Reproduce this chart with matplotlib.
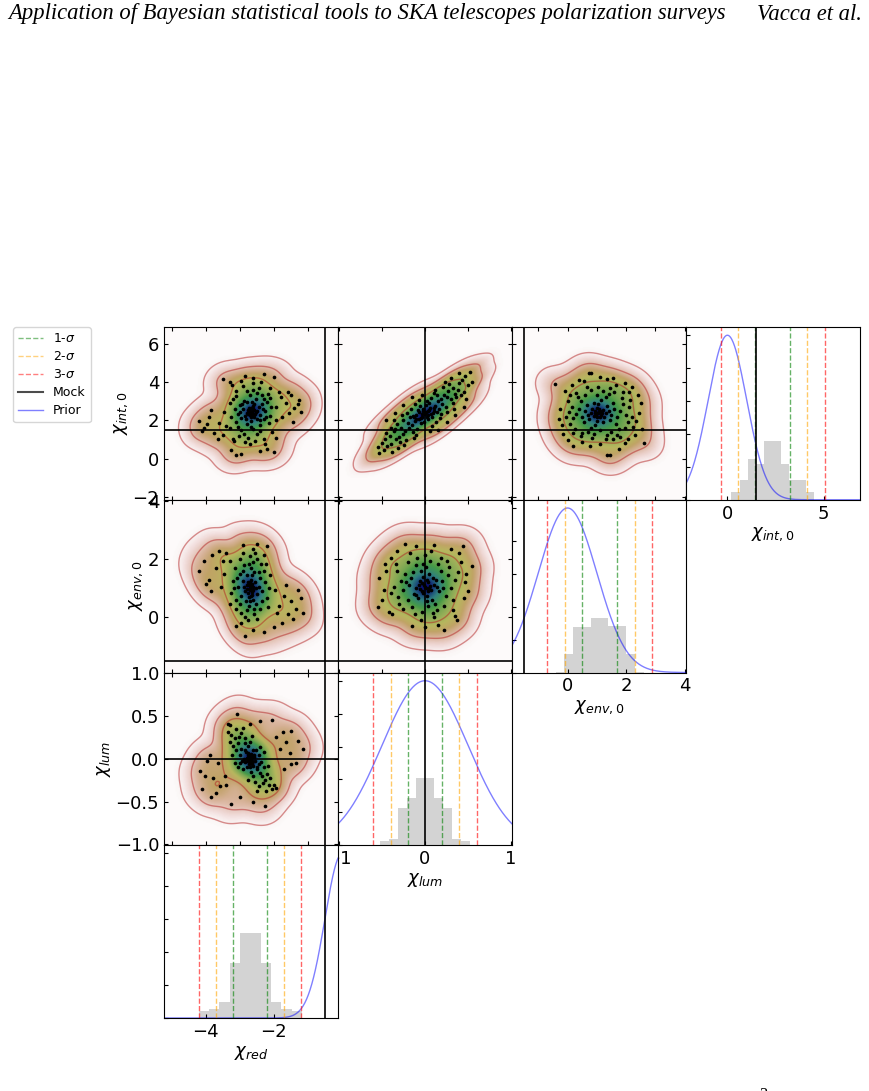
import numpy as np
import matplotlib.pyplot as plt
from matplotlib.ticker import MultipleLocator
from matplotlib.lines import Line2D
from matplotlib.colors import PowerNorm

# parameter order: columns left->right, rows top->bottom
col_par = ['red', 'lum', 'env', 'int']
row_par = ['int', 'env', 'lum', 'red']
labels = {'red': r'$\chi_{red}$', 'lum': r'$\chi_{lum}$',
          'env': r'$\chi_{env,0}$', 'int': r'$\chi_{int,0}$'}

# axis limits
lim_red = (-5.22, -0.12)
lim_lum = (-1.01, 1.01)
lim_env = (-1.9, 4.05)
lim_int = (-2.15, 6.88)

# mock (true) values
mock_red, mock_lum, mock_env, mock_int = -0.5, 0.0, -1.5, 1.5

# posterior mean / std (dashed sigma lines)
post_red, post_lum, post_env, post_int = (-2.7, 0.5), (0.0, 0.2), (1.1, 0.6), (2.35, 0.9)

# prior mean / std
prior_red, prior_lum, prior_env, prior_int = (0.0, 0.5), (0.0, 0.5), (0.0, 1.0), (0.0, 1.0)

# histograms (normalised heights, 10 bins between the range limits)
range_red = (-4.2, -1.18)
hist_red = [0.045, 0.055, 0.095, 0.334, 0.516, 0.516, 0.334, 0.095, 0.055, 0.040]
range_lum = (-0.52, 0.52)
hist_lum = [0.024, 0.035, 0.225, 0.288, 0.408, 0.408, 0.288, 0.225, 0.035, 0.024]
range_env = (-0.41, 2.6)
hist_env = [0.006, 0.111, 0.276, 0.276, 0.330, 0.330, 0.280, 0.280, 0.111, 0.006]
range_int = (0.21, 4.48)
hist_int = [0.047, 0.121, 0.247, 0.218, 0.360, 0.360, 0.218, 0.121, 0.121, 0.047]

# samples (x, y)
pts_red_int = np.array([
    (-2.65, 2.45), (-2.7, 2.3), (-2.6, 2.6), (-2.75, 2.55), (-2.55, 2.35), (-2.68, 2.2), (-2.62, 2.75), (-2.8, 2.4),
    (-2.5, 2.5), (-2.72, 2.65), (-2.58, 2.15), (-2.85, 2.25), (-2.45, 2.7), (-2.9, 2.6), (-2.4, 2.3), (-2.66, 1.95),
    (-2.63, 2.95), (-2.95, 2.1), (-2.35, 2.85), (-2.78, 1.8), (-2.52, 3.1), (-3.0, 2.8), (-2.3, 2.05), (-2.88, 3.0),
    (-2.42, 1.75), (-3.05, 2.35), (-2.25, 2.5), (-2.7, 3.3), (-2.6, 1.55), (-3.1, 1.9), (-2.2, 2.95), (-2.95, 1.5),
    (-2.35, 3.35), (-3.15, 2.6), (-2.15, 1.85), (-2.8, 3.55), (-2.5, 1.3), (-3.2, 3.1), (-2.18, 3.4), (-3.02, 1.2),
    (-2.45, 3.7), (-3.25, 2.2), (-2.1, 2.25), (-2.75, 1.1), (-2.9, 3.8), (-2.3, 1.05), (-3.28, 1.6), (-2.1, 3.7),
    (-2.55, 0.9), (-3.1, 3.55), (-2.38, 4.0), (-3.2, 1.05), (-2.05, 1.4), (-2.85, 0.85), (-2.62, 3.95), (-3.3, 2.9),
    (-2.08, 2.7), (-2.95, 4.05), (-2.25, 0.75), (-3.22, 3.85), (-2.48, 2.05), (-2.82, 2.05), (-2.57, 2.85), (-2.92, 2.85),
    (-2.33, 2.6), (-2.68, 1.65), (-2.5, 3.45), (-3.05, 1.65), (-2.22, 2.15), (-2.6, 3.6), (-2.78, 2.95), (-2.42, 2.0),
    (-2.98, 2.45), (-2.28, 3.1), (-2.87, 1.3), (-2.4, 1.45), (-3.12, 3.25), (-2.12, 3.15), (-2.7, 0.75), (-3.18, 0.9),
    (-2.64, 2.38), (-2.69, 2.5), (-2.6, 2.28), (-2.73, 2.42), (-2.58, 2.56), (-2.77, 2.33), (-2.53, 2.42), (-2.67, 2.62),
    (-4.2, 1.95), (-4.05, 1.6), (-3.9, 2.2), (-3.75, 1.35), (-3.6, 1.85), (-3.85, 2.55), (-3.5, 1.25), (-3.45, 2.45),
    (-4.1, 1.45), (-3.65, 1.05), (-3.95, 1.8), (-3.4, 1.7),
    (-1.95, 2.7), (-1.8, 3.2), (-1.65, 2.9), (-1.5, 3.35), (-1.4, 2.65), (-1.25, 3.05), (-1.55, 2.4), (-1.75, 2.2),
    (-1.3, 2.85), (-1.85, 3.5), (-1.6, 3.5), (-1.2, 2.45), (-1.45, 1.9), (-1.95, 2.0),
    (-3.5, 4.15), (-2.3, 4.4), (-2.6, 4.2), (-3.3, 4.0), (-2.0, 4.25), (-2.85, 4.3),
    (-3.1, 0.2), (-2.95, 0.25), (-2.4, 0.4), (-2.2, 0.5), (-2.0, 0.35), (-3.25, 0.45), (-1.95, 1.1)])

pts_lum_int = np.array([
    (0.0, 2.35), (0.03, 2.5), (-0.04, 2.2), (0.06, 2.65), (-0.07, 2.05), (0.02, 2.15), (-0.02, 2.6), (0.09, 2.4),
    (-0.1, 2.3), (0.05, 2.9), (-0.05, 1.85), (0.12, 2.75), (-0.12, 1.95), (0.08, 2.2), (-0.08, 2.55), (0.15, 3.0),
    (-0.15, 1.75), (0.01, 2.8), (-0.01, 1.9), (0.11, 2.5), (-0.13, 2.15), (0.18, 3.1), (-0.18, 1.6), (0.04, 2.05),
    (-0.06, 2.75), (0.2, 2.85), (-0.2, 1.85), (0.14, 3.3), (-0.14, 1.4), (0.07, 3.15), (-0.09, 1.55), (0.22, 3.35),
    (-0.23, 1.45), (0.16, 2.6), (-0.17, 2.2), (0.25, 3.2), (-0.26, 1.3), (0.1, 3.45), (-0.11, 1.25), (0.27, 3.55),
    (-0.28, 1.6), (0.19, 2.35), (-0.21, 2.4), (0.3, 3.1), (-0.3, 1.15), (0.24, 2.7), (-0.25, 2.0), (0.33, 3.7),
    (-0.34, 1.05), (0.13, 1.9), (-0.12, 2.85), (0.35, 3.4), (-0.36, 1.45), (0.28, 3.9), (-0.29, 0.85), (0.21, 3.75),
    (-0.22, 0.95), (0.38, 3.6), (-0.39, 0.75), (0.17, 2.1), (-0.16, 2.6), (0.4, 3.95), (-0.41, 1.2), (0.32, 2.9),
    (-0.33, 1.8), (0.08, 1.7), (-0.07, 3.05), (0.26, 2.45), (-0.27, 2.3), (0.36, 3.2), (-0.35, 1.55), (0.43, 4.1),
    (-0.44, 0.65), (0.45, 3.5), (-0.46, 1.0), (0.47, 4.3), (-0.48, 0.45), (0.3, 4.2), (-0.31, 0.55), (0.5, 3.85),
    (-0.5, 0.8), (0.52, 4.55), (-0.53, 0.3), (0.42, 3.3), (-0.4, 1.6), (0.06, 1.45), (-0.04, 3.3), (0.23, 4.0),
    (-0.24, 0.7), (0.34, 2.6), (-0.36, 2.0), (0.55, 4.0), (-0.55, 0.6), (0.48, 3.1), (-0.45, 1.35), (0.39, 4.45),
    (-0.38, 0.35), (0.12, 3.6), (-0.13, 1.1), (0.02, 3.0), (0.01, 2.42), (-0.03, 2.33), (0.04, 2.28), (-0.02, 2.47),
    (0.05, 2.55), (-0.05, 2.12), (0.07, 2.35), (-0.07, 2.42), (0.1, 2.62), (-0.1, 2.08), (0.14, 2.45), (-0.14, 2.25),
    (0.25, 1.9), (-0.25, 2.8), (0.35, 2.3), (-0.35, 2.4), (0.15, 1.5), (-0.15, 3.2), (0.45, 2.7), (-0.45, 2.0)])

pts_env_int = np.array([
    (1.05, 2.4), (1.15, 2.3), (0.95, 2.5), (1.2, 2.55), (0.9, 2.25), (1.1, 2.15), (1.0, 2.65), (1.3, 2.4),
    (0.8, 2.4), (1.25, 2.2), (0.85, 2.6), (1.4, 2.5), (0.7, 2.3), (1.05, 2.85), (1.0, 1.95), (1.5, 2.3),
    (0.6, 2.5), (1.35, 2.75), (0.75, 2.05), (1.2, 1.9), (0.9, 2.9), (1.6, 2.6), (0.5, 2.2), (1.45, 2.0),
    (0.65, 2.8), (1.15, 3.05), (0.95, 1.75), (1.7, 2.2), (0.4, 2.6), (1.55, 2.9), (0.55, 1.9), (1.3, 3.2),
    (0.8, 1.6), (1.8, 2.5), (0.3, 2.35), (1.65, 1.8), (0.45, 3.0), (1.0, 3.3), (1.1, 1.5), (1.9, 2.85),
    (0.2, 2.1), (1.75, 1.55), (0.35, 3.2), (1.4, 3.4), (0.7, 1.4), (2.0, 2.3), (0.15, 2.7), (1.5, 1.4),
    (0.6, 3.35), (1.2, 3.55), (0.9, 1.3), (2.05, 1.9), (0.1, 1.8), (1.85, 3.15), (0.25, 1.55), (1.6, 3.5),
    (0.5, 1.35), (2.1, 2.7), (0.05, 2.45), (1.35, 1.25), (0.8, 3.6), (1.95, 1.6), (0.3, 3.45), (2.15, 3.05),
    (0.0, 3.0), (1.7, 1.25), (0.45, 1.2), (1.05, 3.75), (1.3, 1.05), (2.2, 2.15), (0.2, 1.35), (1.9, 3.5),
    (0.65, 3.75), (1.55, 1.05), (0.85, 1.1), (2.25, 1.65), (-0.05, 2.2), (1.45, 3.7), (0.1, 3.3), (1.8, 1.15),
    (1.02, 2.36), (1.08, 2.45), (0.98, 2.3), (1.12, 2.5), (0.93, 2.4), (1.18, 2.38), (1.06, 2.6), (1.0, 2.2),
    (-0.44, 3.9), (0.72, 4.46), (0.8, 4.5), (0.4, 4.1), (1.35, 4.15), (1.64, 3.85), (1.98, 3.93), (2.1, 3.5),
    (2.4, 3.3), (2.5, 2.9), (2.45, 2.4), (2.35, 1.95), (2.63, 0.82), (2.3, 1.25), (2.05, 1.05), (1.75, 0.5),
    (1.46, 0.17), (1.35, 0.17), (0.78, 0.67), (0.2, 0.64), (0.0, 0.95), (-0.15, 1.3), (-0.2, 1.75), (-0.25, 2.6),
    (-0.1, 3.55), (0.15, 3.85), (0.55, 4.05), (1.1, 4.25), (1.55, 4.2), (2.2, 3.75), (1.1, 0.75), (0.5, 0.85),
    (1.95, 0.8), (2.55, 1.55), (-0.3, 2.05)])

pts_red_env = np.array([
    (-2.7, 1.0), (-2.65, 1.15), (-2.75, 0.85), (-2.6, 0.95), (-2.8, 1.1), (-2.68, 1.3), (-2.72, 0.7), (-2.55, 1.2),
    (-2.85, 0.9), (-2.62, 0.6), (-2.78, 1.45), (-2.5, 0.8), (-2.9, 1.25), (-2.58, 1.55), (-2.82, 0.55), (-2.45, 1.05),
    (-2.95, 0.75), (-2.66, 1.7), (-2.74, 0.4), (-2.4, 1.35), (-3.0, 1.5), (-2.52, 0.45), (-2.88, 1.8), (-2.35, 0.9),
    (-3.05, 1.05), (-2.6, 1.9), (-2.8, 0.25), (-2.3, 1.6), (-3.1, 0.6), (-2.48, 2.0), (-2.95, 0.15), (-2.25, 1.2),
    (-3.15, 1.7), (-2.7, 2.1), (-2.58, 0.1), (-2.2, 0.65), (-3.2, 1.25), (-2.38, 1.85), (-3.0, 2.0), (-2.85, 0.0),
    (-2.15, 1.0), (-3.25, 0.85), (-2.55, 2.2), (-2.4, 0.3), (-3.1, 0.3), (-2.12, 1.45), (-3.28, 1.95), (-2.75, -0.1),
    (-2.3, 2.15), (-3.3, 0.45), (-2.65, 1.45), (-2.76, 1.2), (-2.63, 0.78), (-2.87, 1.05), (-2.53, 1.0), (-2.7, 0.55),
    (-2.9, 1.6), (-2.45, 1.55), (-2.98, 0.45), (-2.35, 0.55), (-2.73, 1.82), (-2.57, 0.3), (-3.07, 1.35), (-2.22, 1.85),
    (-2.9, 2.2), (-2.5, -0.05), (-3.18, 1.0), (-2.18, 0.35), (-2.62, 2.35), (-2.95, -0.2),
    (-2.69, 0.95), (-2.66, 1.08), (-2.73, 1.12), (-2.64, 0.86), (-2.78, 0.98), (-2.6, 1.05), (-2.71, 1.22), (-2.67, 0.75),
    (-4.2, 1.6), (-4.05, 1.95), (-3.9, 1.3), (-3.8, 2.15), (-3.7, 1.7), (-3.55, 1.05), (-3.6, 2.3), (-4.0, 1.15),
    (-3.45, 1.5), (-3.5, 1.95), (-3.85, 0.9), (-3.4, 2.2), (-2.48, 2.54), (-2.9, 2.5), (-2.2, 2.45),
    (-1.98, 0.95), (-1.85, 0.4), (-1.7, 0.75), (-1.6, 0.1), (-1.5, 0.55), (-1.35, 0.3), (-1.2, 0.65), (-1.45, -0.05),
    (-1.75, -0.2), (-1.9, 0.15), (-1.3, 0.95), (-1.65, 1.1), (-2.0, -0.35), (-1.15, 0.15),
    (-2.86, -0.66), (-2.6, -0.45), (-3.1, -0.3), (-2.3, -0.5)])

pts_lum_env = np.array([
    (0.0, 1.05), (0.04, 1.2), (-0.04, 0.9), (0.07, 0.95), (-0.06, 1.25), (0.02, 0.75), (-0.02, 1.4), (0.1, 1.1),
    (-0.1, 1.0), (0.05, 1.5), (-0.08, 0.65), (0.13, 1.3), (-0.13, 0.8), (0.08, 0.6), (-0.05, 1.6), (0.16, 0.9),
    (-0.16, 1.35), (0.01, 1.75), (0.03, 0.4), (-0.18, 1.1), (0.2, 1.25), (-0.11, 1.8), (0.12, 0.45), (-0.2, 0.6),
    (0.18, 1.6), (-0.23, 1.5), (0.24, 0.75), (-0.03, 0.2), (0.06, 1.95), (-0.26, 0.95), (0.27, 1.45), (-0.15, 0.35),
    (0.15, 1.85), (-0.28, 1.25), (0.3, 1.0), (-0.09, 2.05), (0.09, 0.15), (-0.31, 0.7), (0.22, 0.4), (-0.2, 1.9),
    (0.28, 1.75), (-0.25, 0.3), (0.33, 0.6), (-0.33, 1.6), (0.0, 2.15), (0.11, 0.0), (-0.12, 0.1), (0.35, 1.3),
    (-0.36, 1.05), (0.19, 2.05), (0.05, 1.02), (-0.07, 1.12), (0.09, 1.35), (-0.1, 0.78), (0.14, 1.05), (-0.14, 1.55),
    (0.02, 0.55), (-0.02, 1.85), (0.21, 1.0), (-0.22, 1.2), (0.25, 1.95), (-0.3, 0.45), (0.32, 0.25), (-0.34, 1.85),
    (0.14, 0.25), (-0.17, 2.2), (0.38, 1.55), (-0.39, 0.85), (0.07, 2.3), (-0.05, -0.1),
    (0.01, 1.0), (-0.01, 1.1), (0.03, 0.92), (-0.03, 1.18), (0.06, 1.08), (-0.06, 0.98), (0.02, 1.28), (-0.02, 0.84),
    (-0.54, 0.37), (0.54, 1.76), (-0.23, 2.53), (0.22, -0.42), (-0.53, 1.34), (-0.42, 0.2), (0.42, 1.9), (-0.45, 1.6),
    (0.47, 1.2), (-0.48, 0.95), (0.45, 0.65), (0.4, 2.2), (-0.4, 2.05), (0.3, 2.35), (-0.32, 2.3), (0.5, 0.9),
    (-0.5, 0.6), (0.35, 0.05), (-0.38, 0.1), (0.1, 2.5), (-0.1, 2.45), (0.44, 2.45), (-0.15, -0.3), (0.15, -0.25),
    (0.48, 1.5), (-0.46, 1.85), (0.37, -0.1), (0.0, -0.35)])

pts_red_lum = np.array([
    (-2.71, 0.0), (-2.65, -0.03), (-2.77, 0.04), (-2.6, -0.08), (-2.82, 0.08), (-2.68, 0.06), (-2.74, -0.06), (-2.55, -0.02),
    (-2.88, 0.0), (-2.62, 0.1), (-2.8, -0.1), (-2.5, -0.12), (-2.95, 0.12), (-2.58, 0.05), (-2.85, -0.04), (-2.45, -0.06),
    (-3.0, 0.05), (-2.66, -0.15), (-2.76, 0.15), (-2.4, -0.16), (-3.05, 0.18), (-2.52, 0.1), (-2.9, -0.12), (-2.35, -0.2),
    (-3.1, 0.1), (-2.7, 0.2), (-2.6, -0.2), (-2.3, -0.1), (-3.15, 0.24), (-2.45, 0.05), (-2.98, -0.05), (-2.25, -0.25),
    (-3.2, 0.15), (-2.85, 0.24), (-2.55, -0.27), (-2.2, -0.18), (-3.25, 0.28), (-2.4, 0.14), (-3.05, -0.1), (-2.15, -0.3),
    (-3.3, 0.2), (-2.95, 0.3), (-2.45, -0.32), (-2.1, -0.22), (-3.35, 0.32), (-2.75, -0.25), (-2.65, 0.27), (-2.05, -0.35),
    (-3.15, -0.05), (-2.3, 0.08), (-2.72, 0.03), (-2.63, -0.05), (-2.79, -0.02), (-2.57, 0.02), (-2.86, 0.1), (-2.48, -0.1),
    (-2.93, -0.03), (-2.69, -0.09), (-2.84, 0.18), (-2.38, -0.04), (-3.02, 0.25), (-2.33, -0.28), (-3.12, 0.35), (-2.22, -0.38),
    (-2.9, 0.36), (-2.5, -0.38), (-3.22, 0.05), (-2.18, -0.08), (-3.28, 0.4), (-2.0, -0.3),
    (-2.7, 0.02), (-2.73, -0.01), (-2.67, 0.01), (-2.75, 0.07), (-2.64, -0.06), (-2.78, 0.01), (-2.61, 0.03), (-2.7, -0.04),
    (-3.07, 0.52), (-2.71, 0.41), (-3.35, 0.41), (-2.42, 0.44), (-1.74, 0.31), (-1.49, 0.33), (-1.3, 0.21), (-1.15, 0.11),
    (-1.54, 0.07), (-1.82, 0.11), (-1.49, -0.06), (-1.65, 0.2), (-1.95, 0.25), (-1.35, -0.05), (-1.7, -0.12),
    (-3.88, 0.04), (-4.17, -0.14), (-4.02, -0.2), (-3.78, -0.22), (-3.83, -0.44), (-3.59, -0.32), (-3.44, -0.2),
    (-3.97, -0.02), (-3.65, -0.05), (-4.1, -0.35), (-3.7, -0.4),
    (-3.25, -0.53), (-2.27, -0.55), (-3.0, -0.45), (-1.93, -0.34), (-2.6, -0.5), (-3.4, -0.3), (-2.05, 0.45)])

lims = {'red': lim_red, 'lum': lim_lum, 'env': lim_env, 'int': lim_int}
mocks = {'red': mock_red, 'lum': mock_lum, 'env': mock_env, 'int': mock_int}
posts = {'red': post_red, 'lum': post_lum, 'env': post_env, 'int': post_int}
priors = {'red': prior_red, 'lum': prior_lum, 'env': prior_env, 'int': prior_int}
hists = {'red': (range_red, hist_red), 'lum': (range_lum, hist_lum),
         'env': (range_env, hist_env), 'int': (range_int, hist_int)}
samples = {('red', 'int'): pts_red_int, ('lum', 'int'): pts_lum_int, ('env', 'int'): pts_env_int,
           ('red', 'env'): pts_red_env, ('lum', 'env'): pts_lum_env, ('red', 'lum'): pts_red_lum}
major_2d = {'red': 1, 'lum': 0.5, 'env': 1, 'int': 2}
major_y = {'int': 2, 'env': 2, 'lum': 0.5}
major_hist = {'red': 2, 'lum': 1, 'env': 2, 'int': 5}


def kde_grid(pts, xl, yl, n=140):
    xs = np.linspace(xl[0], xl[1], n)
    ys = np.linspace(yl[0], yl[1], n)
    X, Y = np.meshgrid(xs, ys)
    cov = np.cov(pts.T) * len(pts) ** (-1 / 3)
    inv = np.linalg.inv(cov)
    g = np.stack([X.ravel(), Y.ravel()], 1)
    d = g[:, None, :] - pts[None, :, :]
    q = np.einsum('gni,ij,gnj->gn', d, inv, d)
    Z = np.exp(-0.5 * q).sum(1).reshape(X.shape)
    return X, Y, Z


def hpd_levels(Z, probs=(0.997, 0.954, 0.683)):
    zs = np.sort(Z.ravel())[::-1]
    cum = np.cumsum(zs)
    cum /= cum[-1]
    return [zs[np.searchsorted(cum, p)] for p in probs]


W, H = 869, 1091
fig = plt.figure(figsize=(W / 100, H / 100), dpi=100)

col_x = [164, 338, 512, 686]
row_y = [327, 499.75, 672.5, 845.25]
pw, ph = 174, 172.75

for r in range(4):
    for c in range(4 - r):
        ax = fig.add_axes([col_x[c] / W, 1 - (row_y[r] + ph) / H, pw / W, ph / H])
        xp = col_par[c]
        yp = row_par[r]
        ax.set_xlim(lims[xp])
        if c == 3 - r:
            # diagonal: histogram + prior + sigma lines
            rng, h = hists[xp]
            edges = np.linspace(rng[0], rng[1], len(h) + 1)
            ax.stairs(h, edges, fill=True, color='lightgray')
            xx = np.linspace(lims[xp][0], lims[xp][1], 400)
            pm, ps = priors[xp]
            ax.plot(xx, np.exp(-0.5 * ((xx - pm) / ps) ** 2), color='b', alpha=0.5, lw=1)
            mu, sd = posts[xp]
            for k, col in zip([1, 2, 3], ['g', 'orange', 'r']):
                ax.axvline(mu - k * sd, ls='--', color=col, alpha=0.6, lw=1)
                ax.axvline(mu + k * sd, ls='--', color=col, alpha=0.6, lw=1)
            ax.axvline(mocks[xp], color='k', lw=1.2)
            ax.set_ylim(0, 1.05)
            ax.yaxis.set_major_locator(MultipleLocator(0.2))
            ax.xaxis.set_major_locator(MultipleLocator(major_hist[xp]))
            ax.tick_params(direction='in', length=3, labelsize=13, labelleft=False)
            ax.set_xlabel(labels[xp], fontsize=13, labelpad=2)
        else:
            pts = samples[(xp, yp)]
            X, Y, Z = kde_grid(pts, lims[xp], lims[yp])
            ax.imshow(Z, extent=[*lims[xp], *lims[yp]], origin='lower', aspect='auto',
                      cmap='gist_earth_r', norm=PowerNorm(0.75, vmin=0, vmax=Z.max() * 1.06),
                      interpolation='bilinear')
            ax.contour(X, Y, Z, levels=hpd_levels(Z), colors='firebrick', alpha=0.5, linewidths=1)
            ax.scatter(pts[:, 0], pts[:, 1], s=7, c='k', linewidths=0, zorder=3)
            ax.axvline(mocks[xp], color='k', lw=1.2)
            ax.axhline(mocks[yp], color='k', lw=1.2)
            ax.set_ylim(lims[yp])
            ax.xaxis.set_major_locator(MultipleLocator(major_2d[xp]))
            ax.yaxis.set_major_locator(MultipleLocator(major_y[yp]))
            ax.tick_params(direction='in', length=3, top=True, right=True, labelsize=13,
                           labelbottom=False, labelleft=(c == 0))
            if c == 0:
                ax.set_ylabel(labels[yp], fontsize=13, labelpad=2)

handles = [Line2D([], [], color='g', ls='--', alpha=0.5, lw=1, label=r'1-$\sigma$'),
           Line2D([], [], color='orange', ls='--', alpha=0.5, lw=1, label=r'2-$\sigma$'),
           Line2D([], [], color='r', ls='--', alpha=0.5, lw=1, label=r'3-$\sigma$'),
           Line2D([], [], color='k', alpha=0.7, lw=1.5, label='Mock'),
           Line2D([], [], color='b', alpha=0.5, lw=1, label='Prior')]
fig.legend(handles=handles, loc='upper left', bbox_to_anchor=(13 / W, 1 - 327 / H),
           borderaxespad=0, fontsize=9, labelspacing=0.4)

fig.text(8 / W, 1 - 14 / H, 'Application of Bayesian statistical tools to SKA telescopes polarization surveys',
         family='Liberation Serif', style='italic', fontsize=16.3, ha='left', va='center')
fig.text(862 / W, 1 - 14 / H, 'Vacca et al.', family='Liberation Serif', style='italic',
         fontsize=16.3, ha='right', va='center')
fig.text(763 / W, 1 - 1103 / H, '3', family='Liberation Serif', fontsize=12, ha='center', va='bottom')

fig.savefig('out.png', dpi=100)
